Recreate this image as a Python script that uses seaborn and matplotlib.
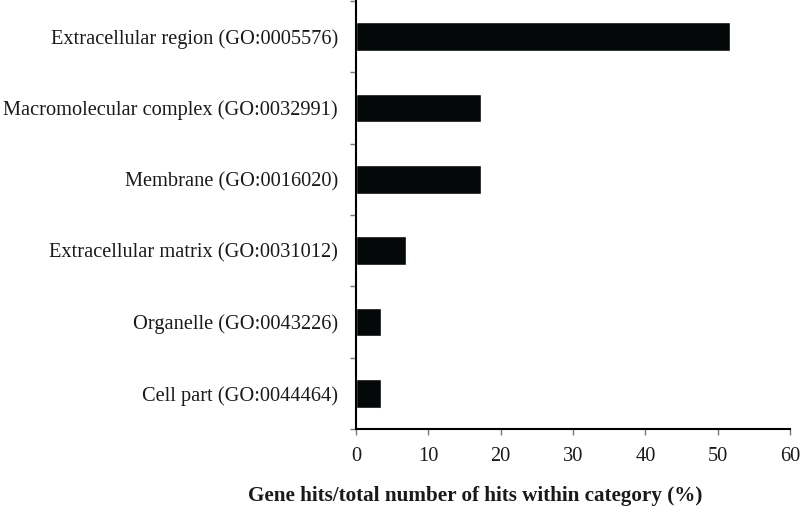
import matplotlib
matplotlib.use("Agg")
import matplotlib.pyplot as plt
import seaborn as sns
import pandas as pd
import numpy as np

categories = [
    "Extracellular region (GO:0005576)",
    "Macromolecular complex (GO:0032991)",
    "Membrane (GO:0016020)",
    "Extracellular matrix (GO:0031012)",
    "Organelle (GO:0043226)",
    "Cell part (GO:0044464)",
]
percent_hits = [51.72, 17.24, 17.24, 6.90, 3.45, 3.45]
x_ticks = [0, 10, 20, 30, 40, 50, 60]

sns.set_theme(style="white")
plt.rcParams['font.family'] = ['Liberation Serif', 'DejaVu Serif']

df = pd.DataFrame({"category": categories, "pct": percent_hits})

fig = plt.figure(figsize=(8, 5.14), dpi=100)
ax = fig.add_axes([0.445, 0.1654, 0.5425, 0.8326])

sns.barplot(data=df, x="pct", y="category", orient="h", color="#050808",
            width=0.4, saturation=1, ax=ax)

ax.set_xlim(0, 60)
ax.set_ylim(len(categories) - 0.5, -0.5)
ax.set_xticks(x_ticks)
ax.set_xticklabels([str(t) for t in x_ticks])

# ticks sit on the category boundaries, labels at the centres
ax.set_yticks(np.arange(-0.5, len(categories)), minor=True)
ax.tick_params(axis="y", which="major", length=0, pad=13, labelsize=14.7, colors="#1a1a1a")
ax.tick_params(axis="y", which="minor", left=True, length=4, width=1, color="#777777")
ax.tick_params(axis="x", which="major", bottom=True, length=4, width=1, color="#777777",
               pad=9, labelsize=14.7, labelcolor="#1a1a1a")

for side in ["top", "right"]:
    ax.spines[side].set_visible(False)
for side in ["left", "bottom"]:
    ax.spines[side].set_color("black")
    ax.spines[side].set_linewidth(1.5)

ax.set_ylabel("")
ax.set_xlabel("Gene hits/total number of hits within category (%)", fontsize=15.2,
              fontweight="bold", color="#1a1a1a")
# label is centred under the whole figure, not under the axes
ax.xaxis.set_label_coords(0.274, -0.134)

fig.savefig("out.png", dpi=100, facecolor="white")
